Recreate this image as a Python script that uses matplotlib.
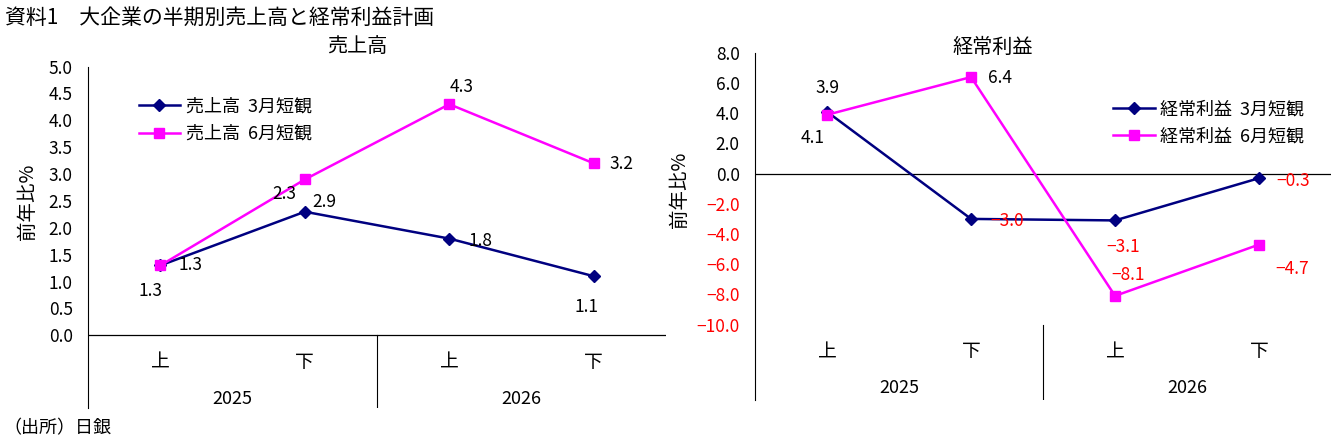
import matplotlib
matplotlib.use("Agg")
import matplotlib.pyplot as plt

plt.rcParams['font.family'] = ['Noto Sans CJK JP', 'DejaVu Sans']
plt.rcParams['font.size'] = 12

halves = ['上', '下', '上', '下']
years = ['2025', '2026']

sales_mar = [1.3, 2.3, 1.8, 1.1]
sales_jun = [1.3, 2.9, 4.3, 3.2]
profit_mar = [4.1, -3.0, -3.1, -0.3]
profit_jun = [3.9, 6.4, -8.1, -4.7]

NAVY = '#000080'
PINK = '#FF00FF'


def fmt(v):
    return f"{v:.1f}".replace('-', '−')


def setup(ax, ymin, ymax, ticks, sep_top):
    ax.set_xlim(-0.5, 3.5)
    ax.set_ylim(ymin, ymax)
    for s in ['top', 'right', 'bottom']:
        ax.spines[s].set_visible(False)
    ax.spines['left'].set_linewidth(0.8)
    ax.set_xticks([])
    ax.set_yticks(ticks)
    ax.set_yticklabels([fmt(t) for t in ticks])
    for t, lab in zip(ticks, ax.get_yticklabels()):
        lab.set_color('red' if t < 0 else 'black')
    ax.tick_params(axis='y', length=0, pad=11, labelsize=12.5)
    ax.axhline(0, color='black', lw=0.9)
    ax.plot([1.5, 1.5], [ymin, sep_top], color='black', lw=0.8)
    ax.set_ylabel('前年比%', fontsize=14)


def label(ax, x, y, dx, dy, v):
    ax.annotate(fmt(v), (x, y), xytext=(dx * 0.72, dy * 0.72), textcoords='offset points',
                ha='center', va='center', fontsize=12.5, color='red' if v < 0 else 'black')


fig = plt.figure(figsize=(13.34, 4.41), dpi=100)

# --- 売上高 ---
ax1 = fig.add_axes([0.066, 0.075, 0.4333, 0.774])
setup(ax1, -1.35, 5.0, [i * 0.5 for i in range(11)], 0)
x = range(4)
ax1.plot(x, sales_mar, color=NAVY, lw=1.8, marker='D', ms=6.5, label='売上高  3月短観')
ax1.plot(x, sales_jun, color=PINK, lw=1.8, marker='s', ms=7, label='売上高  6月短観')
ax1.yaxis.set_label_coords(-0.087, 0.604)
for i, h in enumerate(halves):
    ax1.text(i, -0.5, h, ha='center', va='center', fontsize=13.5)
for j, yr in enumerate(years):
    ax1.text(0.5 + 2 * j, -1.18, yr, ha='center', va='center', fontsize=13)
s_off_mar = [(-10, -26), (-20, 18), (31, -2), (-7, -31)]
s_off_jun = [(30, 0), (20, -23), (12, 17), (28, -1)]
for i in range(4):
    label(ax1, i, sales_mar[i], *s_off_mar[i], sales_mar[i])
    label(ax1, i, sales_jun[i], *s_off_jun[i], sales_jun[i])
ax1.legend(loc='upper left', bbox_to_anchor=(0.072, 0.935), frameon=False, fontsize=13,
           handlelength=2.3, labelspacing=0.5, handletextpad=0.3, borderpad=0)

# --- 経常利益 ---
ax2 = fig.add_axes([0.566, 0.093, 0.4318, 0.787])
setup(ax2, -15, 8.0, [8 - 2 * i for i in range(10)], -10)
ax2.plot(x, profit_mar, color=NAVY, lw=1.8, marker='D', ms=6.5, label='経常利益  3月短観')
ax2.plot(x, profit_jun, color=PINK, lw=1.8, marker='s', ms=7, label='経常利益  6月短観')
ax2.yaxis.set_label_coords(-0.113, 0.605)
for i, h in enumerate(halves):
    ax2.text(i, -11.8, h, ha='center', va='center', fontsize=13.5)
for j, yr in enumerate(years):
    ax2.text(0.5 + 2 * j, -14.2, yr, ha='center', va='center', fontsize=13)
p_off_mar = [(-14, -26), (36, -2), (8, -27), (34, -2.5)]
p_off_jun = [(0, 27), (29, -1), (13, 21), (33, -24)]
for i in range(4):
    label(ax2, i, profit_mar[i], *p_off_mar[i], profit_mar[i])
    label(ax2, i, profit_jun[i], *p_off_jun[i], profit_jun[i])
ax2.legend(loc='upper left', bbox_to_anchor=(0.606, 0.89), frameon=False, fontsize=13,
           handlelength=2.3, labelspacing=0.5, handletextpad=0.3, borderpad=0)

fig.text(5 / 1334, 1 - 18 / 441, '資料1　大企業の半期別売上高と経常利益計画', ha='left', va='center', fontsize=15)
fig.text(357 / 1334, 1 - 47 / 441, '売上高', ha='center', va='center', fontsize=14.5)
fig.text(993 / 1334, 1 - 47 / 441, '経常利益', ha='center', va='center', fontsize=14.5)
fig.text(3 / 1334, 1 - 428 / 441, '（出所）日銀', ha='left', va='center', fontsize=13)

fig.savefig('out.png', dpi=100)
